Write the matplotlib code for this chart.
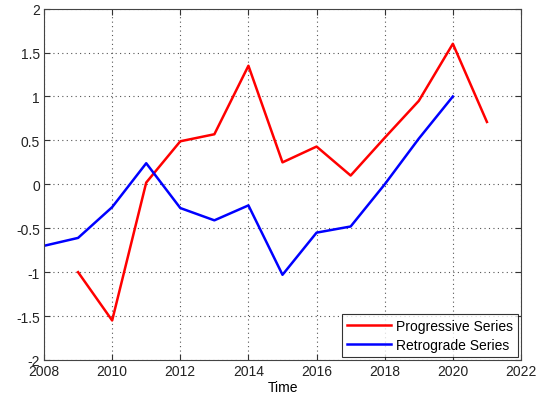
import matplotlib
matplotlib.use('Agg')
import matplotlib.pyplot as plt

plt.rcParams['font.family'] = ['Liberation Sans', 'DejaVu Sans']

# данные
years_prog = [2009, 2010, 2011, 2012, 2013, 2014, 2015, 2016, 2017, 2018, 2019, 2020, 2021]
prog = [-1.0, -1.55, 0.02, 0.49, 0.57, 1.35, 0.25, 0.43, 0.10, 0.53, 0.95, 1.60, 0.71]

years_retro = [2008, 2009, 2010, 2011, 2012, 2013, 2014, 2015, 2016, 2017, 2018, 2019, 2020]
retro = [-0.70, -0.61, -0.26, 0.24, -0.27, -0.41, -0.24, -1.03, -0.55, -0.48, 0.0, 0.52, 1.0]

xticks = list(range(2008, 2023, 2))
yticks = [-2, -1.5, -1, -0.5, 0, 0.5, 1, 1.5, 2]
ylabels = ['-2', '-1.5', '-1', '-0.5', '0', '0.5', '1', '1.5', '2']

fig = plt.figure(figsize=(5.38, 4.02), dpi=100)
ax = fig.add_axes([0.0818, 0.102, 0.8866, 0.874])

ax.plot(years_prog, prog, color='red', linewidth=1.8, label='Progressive Series')
ax.plot(years_retro, retro, color='blue', linewidth=1.8, label='Retrograde Series')

ax.set_xlim(2008, 2022)
ax.set_ylim(-2, 2)
ax.set_xticks(xticks)
ax.set_yticks(yticks)
ax.set_yticklabels(ylabels)
ax.tick_params(direction='in', length=4, labelsize=10, colors='#333333',
               top=True, right=True, pad=3)
ax.tick_params(labelcolor='#222222')
ax.grid(True, linestyle=(0, (1, 3)), color='#555555', linewidth=0.8)
for s in ax.spines.values():
    s.set_color('#444444')
    s.set_linewidth(0.8)

ax.set_xlabel('Time', fontsize=10, labelpad=1)

leg = ax.legend(loc='lower right', fontsize=10, frameon=True, fancybox=False,
                edgecolor='black', borderaxespad=0.25, handlelength=3.2,
                handletextpad=0.3, borderpad=0.35, labelspacing=0.35)
leg.get_frame().set_linewidth(0.8)

fig.savefig('out.png', dpi=100)
